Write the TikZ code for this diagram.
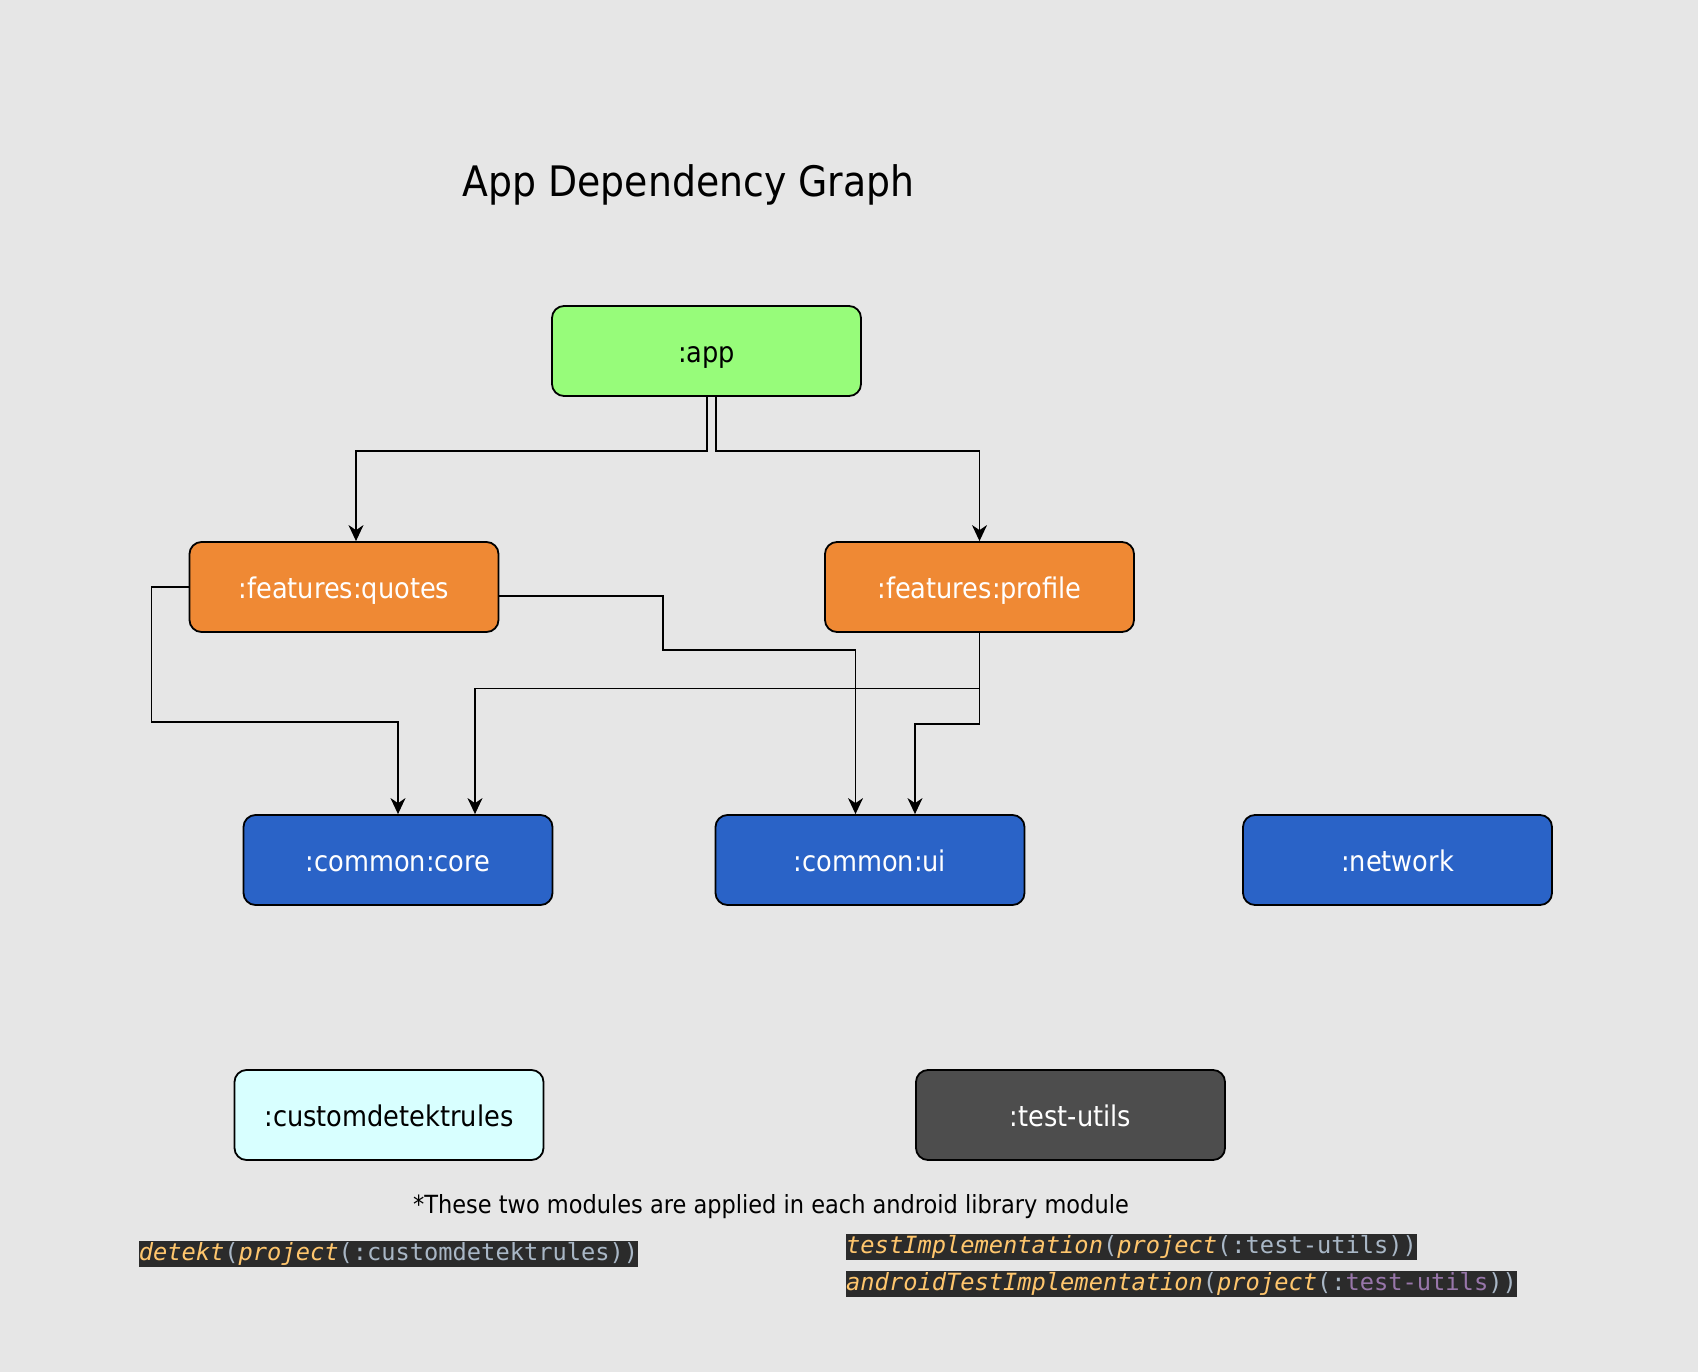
\documentclass[tikz,border=0pt]{standalone}
\usepackage{fontspec}
\setmainfont{DejaVu Sans Condensed}
\newfontfamily\codefont{DejaVu Sans Mono}
\usetikzlibrary{arrows.meta}
\definecolor{bgc}{HTML}{E6E6E6}
\definecolor{appc}{HTML}{97FC7A}
\definecolor{featc}{HTML}{EF8934}
\definecolor{commc}{HTML}{2A63C7}
\definecolor{detc}{HTML}{D8FFFF}
\definecolor{testc}{HTML}{4D4D4D}
\definecolor{codebg}{HTML}{2B2B2B}
\definecolor{codeor}{HTML}{FFC66D}
\definecolor{codegr}{HTML}{A9B7C6}
\definecolor{codepu}{HTML}{9876AA}
\tikzset{
  modbox/.style={draw=black, line width=1.8pt, rounded corners=12pt,
    minimum width=309pt, minimum height=90pt, inner sep=0pt,
    text height=29pt, text depth=6pt,
    font=\fontsize{28.5}{30}\selectfont},
  arr/.style={draw=black, line width=1.3pt,
    -{Stealth[length=16pt,width=15pt,inset=5pt]}},
  codeline/.style={fill=codebg, inner xsep=0pt, inner ysep=1pt,
    text height=18pt, text depth=6pt, anchor=west,
    font=\codefont\fontsize{23.7}{24}\selectfont},
}
\newcommand{\kwo}[1]{\textcolor{codeor}{\itshape #1}}
\newcommand{\kwg}[1]{\textcolor{codegr}{#1}}
\newcommand{\kwp}[1]{\textcolor{codepu}{#1}}
\begin{document}
\begin{tikzpicture}[x=1pt,y=-1pt]
\fill[bgc] (0,0) rectangle (1698,1372);
\useasboundingbox (0,0) rectangle (1698,1372);

\node[font=\fontsize{42}{46}\selectfont] (title) at (688.5,185) {App Dependency Graph};

\node[modbox, fill=appc] (app) at (706.5,351) {:app};
\node[modbox, fill=featc, text=white] (quotes) at (344,587) {:features:quotes};
\node[modbox, fill=featc, text=white] (profile) at (979.5,587) {:features:profile};
\node[modbox, fill=commc, text=white] (core) at (398,860) {:common:core};
\node[modbox, fill=commc, text=white] (ui) at (870,860) {:common:ui};
\node[modbox, fill=commc, text=white] (network) at (1397.5,860) {:network};
\node[modbox, fill=detc] (custom) at (389,1115) {:customdetektrules};
\node[modbox, fill=testc, text=white] (testutils) at (1070.5,1115) {:test-utils};

\draw[arr] ([xshift=0.5pt]app.south) -- ++(0,54) -| ([xshift=12pt]quotes.north);
\draw[arr] ([xshift=9.5pt]app.south) -- ++(0,54) -| (profile.north);
\draw[arr] (quotes.west) -| ++(-37,135) -| (core.north);
\draw[arr] ([yshift=-9pt]quotes.east) -| ++(163.5,54) -| ([xshift=-14.5pt]ui.north);
\draw[arr] (profile.south) -- ++(0,55.6) -| ([xshift=77pt]core.north);
\draw[arr] (profile.south) -- ++(0,91) -| ([xshift=45pt]ui.north);

\node[font=\fontsize{25}{27}\selectfont] (note) at (771,1207) {*These two modules are applied in each android library module};

\node[codeline] (code1) at (138.6,1254) {\kwo{detekt}\kwg{(}\kwo{project}\kwg{(:customdetektrules))}};
\node[codeline] (code2) at (846,1247) {\kwo{testImplementation}\kwg{(}\kwo{project}\kwg{(:test-utils))}};
\node[codeline] (code3) at (846,1284) {\kwo{androidTestImplementation}\kwg{(}\kwo{project}\kwg{(:}\kwp{test-utils}\kwg{))}};
\end{tikzpicture}
\end{document}
